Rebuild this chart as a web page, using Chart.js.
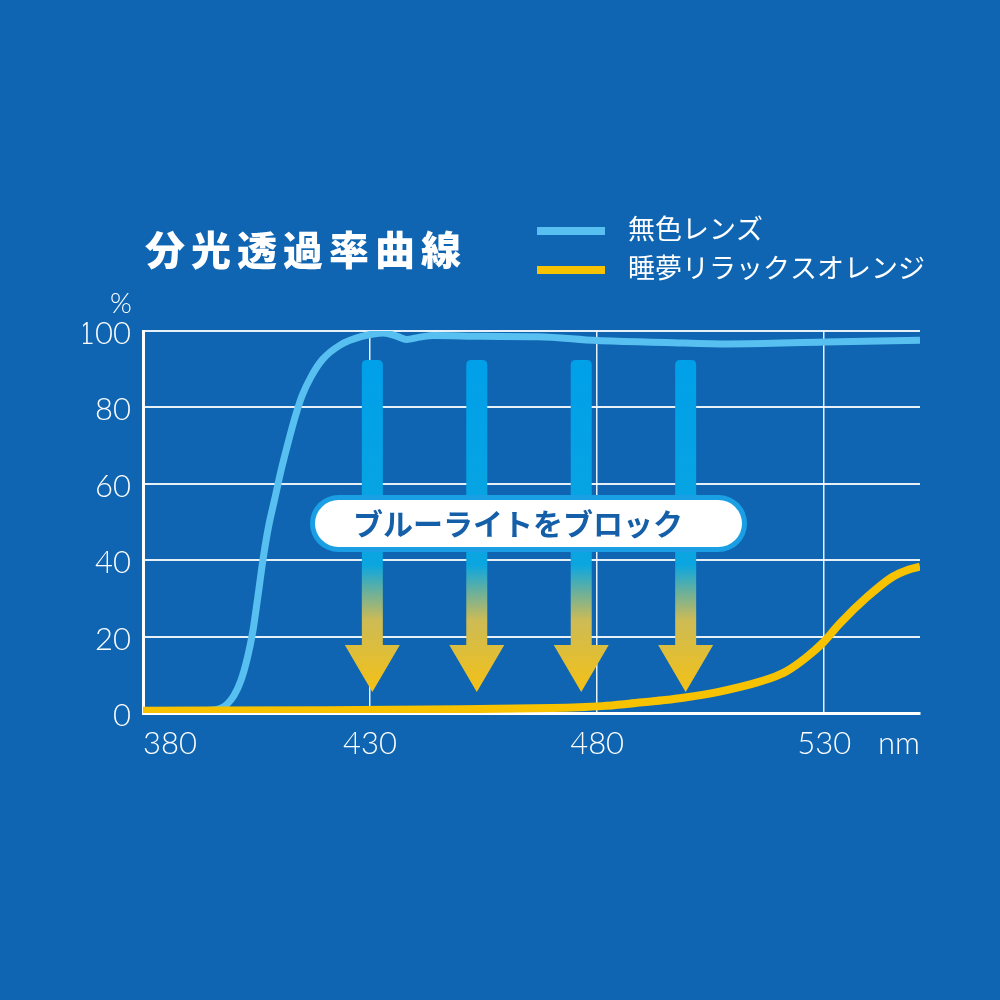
<!DOCTYPE html>
<html>
<head>
<meta charset="utf-8">
<script src="https://cdn.jsdelivr.net/npm/chart.js@4.4.1/dist/chart.umd.min.js"></script>
<style>
  html, body { margin: 0; padding: 0; background: #0f65b1; }
  #wrap { width: 1000px; height: 1000px; position: relative; }
</style>
</head>
<body>
<div id="wrap"><canvas id="specChart" width="1000" height="1000"></canvas></div>
<script>
const chartTitle = "分光透過率曲線";
const seriesLabels = ["無色レンズ", "睡夢リラックスオレンジ"];
const bannerText = "ブルーライトをブロック";

// wavelength (nm) / transmittance (%)
const clearNm = [380, 390, 395, 397, 398.5, 400, 401.5, 403, 404.2, 405.3, 406.4, 407.6, 409, 410.5, 412, 413.5, 415, 417, 419.5, 423.4, 428, 433, 436, 438, 441, 444, 455, 467, 480, 495, 509, 530, 551.1];
const clearPct = [0.6, 0.6, 0.7, 1.2, 2.3, 4.5, 8.3, 14.5, 21.5, 30.5, 40, 48.5, 56, 64, 71, 77.5, 83, 88, 92.5, 96.3, 98.5, 99.5, 98.6, 97.8, 98.4, 98.8, 98.6, 98.5, 97.5, 97, 96.6, 97.1, 97.6];
const orangeNm = [380, 420, 450, 470, 476, 481, 486, 490, 495, 499, 507, 513.7, 518, 521.8, 526, 529.8, 533.5, 539.5, 545, 548.5, 551.1];
const orangePct = [0.6, 0.7, 1.0, 1.3, 1.5, 1.8, 2.3, 2.8, 3.4, 4, 5.6, 7.5, 9, 11, 14.5, 18.5, 23.5, 30.4, 35.6, 37.5, 38.3];

const xMax = 551.1;
const xTicks = [380, 430, 480, 530, xMax];
const xUnit = "nm";
const yTicks = [0, 20, 40, 60, 80, 100];
const arrowNm = [430.5, 453.5, 476.5, 499.5];

const BG = "#0f65b1";
const CLEAR = "#58c0f0";
const ORANGE = "#f7c200";
const tickFont = { family: "Lato, 'Noto Sans', sans-serif", size: 31, weight: "300" };

function toPoints(xs, ys) {
  return xs.map((x, i) => ({ x: x, y: ys[i] }));
}

// background, arrows and the banner under the curves
const decorPlugin = {
  id: "decor",
  beforeDraw(chart) {
    const ctx = chart.ctx;
    ctx.save();
    ctx.fillStyle = BG;
    ctx.fillRect(0, 0, chart.width, chart.height);
    ctx.restore();
  },
  beforeDatasetsDraw(chart) {
    const ctx = chart.ctx;
    const xs = chart.scales.x;
    const top = 360, headTop = 645, tip = 692, shaftW = 21, headW = 55;
    ctx.save();
    arrowNm.forEach(nm => {
      const cx = xs.getPixelForValue(nm);
      const g = ctx.createLinearGradient(0, top, 0, tip);
      g.addColorStop(0, "#00a0e9");
      g.addColorStop((565 - top) / (tip - top), "#0ba6e0");
      g.addColorStop((620 - top) / (tip - top), "#cdbb55");
      g.addColorStop(1, "#f4c116");
      ctx.fillStyle = g;
      ctx.beginPath();
      const r = 5;
      ctx.moveTo(cx - shaftW / 2, headTop);
      ctx.lineTo(cx - shaftW / 2, top + r);
      ctx.quadraticCurveTo(cx - shaftW / 2, top, cx - shaftW / 2 + r, top);
      ctx.lineTo(cx + shaftW / 2 - r, top);
      ctx.quadraticCurveTo(cx + shaftW / 2, top, cx + shaftW / 2, top + r);
      ctx.lineTo(cx + shaftW / 2, headTop);
      ctx.lineTo(cx + headW / 2, headTop);
      ctx.lineTo(cx, tip);
      ctx.lineTo(cx - headW / 2, headTop);
      ctx.closePath();
      ctx.fill();
    });

    // banner
    const bx = 310, by = 495, bw = 437, bh = 57, br = bh / 2;
    ctx.beginPath();
    ctx.roundRect(bx, by, bw, bh, br);
    ctx.fillStyle = "#1a9fe5";
    ctx.fill();
    ctx.beginPath();
    ctx.roundRect(bx + 5, by + 5, bw - 10, bh - 10, br - 5);
    ctx.fillStyle = "#ffffff";
    ctx.fill();
    ctx.fillStyle = "#155fa8";
    ctx.font = "bold 30px 'Noto Sans CJK JP', sans-serif";
    ctx.textAlign = "center";
    ctx.textBaseline = "middle";
    ctx.fillText(bannerText, 518, 524);
    ctx.restore();
  },
  afterDraw(chart) {
    const ctx = chart.ctx;
    ctx.save();
    ctx.fillStyle = "#ffffff";
    ctx.textBaseline = "middle";
    // title
    ctx.font = "900 40px 'Noto Sans CJK JP', sans-serif";
    ctx.textAlign = "left";
    ctx.letterSpacing = "6px";
    ctx.fillText(chartTitle, 145, 250);
    ctx.letterSpacing = "0px";
    // legend
    const rows = [231, 270];
    chart.data.datasets.slice().sort((a, b) => a.legendRow - b.legendRow).forEach((ds, i) => {
      ctx.fillStyle = ds.borderColor;
      ctx.fillRect(537, rows[i] - 4, 68, 8);
      ctx.fillStyle = "#ffffff";
      ctx.font = "27px 'Noto Sans CJK JP', sans-serif";
      ctx.fillText(ds.label, 628, rows[i] - 2);
    });
    // unit of the y axis
    ctx.font = "300 28px Lato, 'Noto Sans', sans-serif";
    ctx.textAlign = "center";
    ctx.fillText("%", 121, 304);
    ctx.restore();
  }
};

const ctx = document.getElementById("specChart").getContext("2d");

new Chart(ctx, {
  type: "line",
  data: {
    datasets: [
      {
        label: seriesLabels[0],
        legendRow: 0,
        data: toPoints(clearNm, clearPct),
        borderColor: CLEAR,
        borderWidth: 7,
        pointRadius: 0,
        cubicInterpolationMode: "monotone",
        order: 2,
      },
      {
        label: seriesLabels[1],
        legendRow: 1,
        data: toPoints(orangeNm, orangePct),
        borderColor: ORANGE,
        borderWidth: 8,
        pointRadius: 0,
        cubicInterpolationMode: "monotone",
        order: 1,
      },
    ],
  },
  options: {
    responsive: false,
    animation: false,
    devicePixelRatio: 1,
    layout: { padding: { left: 83, right: 80, top: 331, bottom: 227 } },
    scales: {
      x: {
        type: "linear",
        min: 380,
        max: xMax,
        afterFit: s => { s.height = 60; },
        afterBuildTicks: s => { s.ticks = xTicks.map(v => ({ value: v })); },
        ticks: {
          color: "#ffffff",
          font: tickFont,
          padding: 12,
          maxRotation: 0,
          align: "inner",
          autoSkip: false,
          callback: v => (v === xMax ? xUnit : String(v)),
        },
        grid: {
          drawTicks: false,
          color: c => (c.index === 0 || c.tick.value === xMax ? "rgba(0,0,0,0)" : "rgba(255,255,255,0.9)"),
          lineWidth: 1.5,
        },
        border: { color: "#ffffff", width: 3 },
      },
      y: {
        min: 0,
        max: 100,
        afterFit: s => { s.width = 60; },
        afterBuildTicks: s => { s.ticks = yTicks.map(v => ({ value: v })); },
        ticks: { color: "#ffffff", font: tickFont, padding: 12, labelOffset: 3 },
        grid: {
          drawTicks: false,
          color: c => (c.index === 0 ? "rgba(0,0,0,0)" : "rgba(255,255,255,0.9)"),
          lineWidth: 2,
        },
        border: { color: "#ffffff", width: 3 },
      },
    },
    plugins: {
      legend: { display: false },
      tooltip: { enabled: false },
    },
  },
  plugins: [decorPlugin],
});
</script>
</body>
</html>
